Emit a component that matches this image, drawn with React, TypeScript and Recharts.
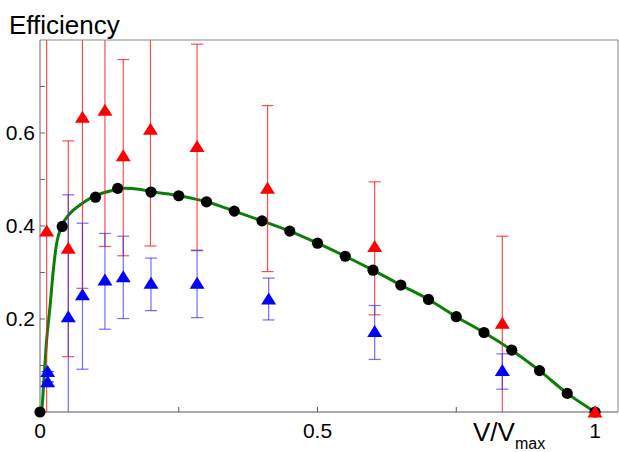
import * as Recharts from 'recharts';
import {ComposedChart, ErrorBar, Line, Scatter, XAxis, YAxis} from 'recharts';

// model points (black circles)
const modelX = [0, 0.04, 0.1, 0.14, 0.2, 0.25, 0.3, 0.35, 0.4, 0.45, 0.5, 0.55, 0.6, 0.65, 0.7, 0.75, 0.8, 0.85, 0.9, 0.95, 1.0];
const modelY = [0, 0.399, 0.462, 0.481, 0.473, 0.465, 0.452, 0.432, 0.411, 0.389, 0.363, 0.335, 0.305, 0.273, 0.242, 0.205, 0.171, 0.133, 0.089, 0.040, 0];

// green fitted curve, read along its path
const fitX = [0, 0.003, 0.007, 0.012, 0.018, 0.024, 0.03, 0.039, 0.054, 0.072, 0.096, 0.132, 0.153, 0.178, 0.2, 0.25, 0.3, 0.35, 0.4, 0.45, 0.5, 0.55, 0.6, 0.65, 0.7, 0.75, 0.8, 0.85, 0.9, 0.95, 1.0];
const fitY = [0, 0.004, 0.069, 0.155, 0.226, 0.305, 0.363, 0.399, 0.427, 0.445, 0.463, 0.477, 0.481, 0.479, 0.474, 0.465, 0.452, 0.432, 0.411, 0.389, 0.363, 0.335, 0.305, 0.273, 0.242, 0.205, 0.171, 0.133, 0.089, 0.040, 0];

// red measurements with error ranges (bars beyond the axes run off the plot)
const redX = [0.012, 0.051, 0.0765, 0.117, 0.15, 0.199, 0.283, 0.41, 0.603, 0.833, 1.0];
const redY = [0.389, 0.352, 0.634, 0.649, 0.551, 0.608, 0.571, 0.481, 0.356, 0.191, 0];
const redLow = [-0.1, 0.119, 0.266, 0.356, 0.336, 0.357, 0.348, 0.302, 0.209, -0.1, 0];
const redHigh = [0.95, 0.583, 0.95, 0.95, 0.758, 0.95, 0.791, 0.659, 0.495, 0.378, 0];

// blue measurements
const blueX = [0.0138, 0.0138, 0.051, 0.0765, 0.117, 0.15, 0.2, 0.283, 0.412, 0.603, 0.833];
const blueY = [0.087, 0.065, 0.205, 0.252, 0.284, 0.291, 0.277, 0.277, 0.243, 0.173, 0.089];
const blueLow = [0.087, 0.065, -0.1, 0.092, 0.178, 0.201, 0.218, 0.203, 0.198, 0.113, 0.049];
const blueHigh = [0.087, 0.065, 0.467, 0.406, 0.384, 0.378, 0.331, 0.347, 0.288, 0.229, 0.125];

const xTicks = [0, 0.25, 0.5, 0.75, 1];
const xLabelled = [0, 0.5, 1];
const yTicks = [0, 0.1, 0.2, 0.3, 0.4, 0.5, 0.6, 0.7];
const yLabelled = [0.2, 0.4, 0.6];

const font = '"Liberation Sans", Arial, sans-serif';

const fit = fitX.map((x, i) => ({x, y: fitY[i]}));
const model = modelX.map((x, i) => ({x, y: modelY[i]}));
const red = redX.map((x, i) => ({x, y: redY[i], err: [redY[i] - redLow[i], redHigh[i] - redY[i]]}));
const blue = blueX.map((x, i) => ({x, y: blueY[i], err: [blueY[i] - blueLow[i], blueHigh[i] - blueY[i]]}));

const triangle = (color: string) => (props: any) => {
    const {cx, cy} = props;
    return <polygon points={`${cx},${cy - 6.5} ${cx - 7.5},${cy + 5.5} ${cx + 7.5},${cy + 5.5}`} fill={color}/>;
};
const dot = (props: any) => <circle cx={props.cx} cy={props.cy} r={5.6} fill="#000"/>;

// error bars that run past the axes get cut at the plot box, markers do not
const PlotClip = () => {
    const hook = (Recharts as any).usePlotArea;
    const area = hook ? hook() : null;
    const {x, y, width, height} = area ?? {x: 40, y: 40, width: 578, height: 372};
    return (
        <defs>
            <clipPath id="plot-clip">
                <rect x={x} y={y} width={width} height={height}/>
            </clipPath>
        </defs>
    );
};

const css = `
.recharts-scatter, .recharts-scatter-symbol, .recharts-line, .recharts-line-curve { clip-path: none; }
g.recharts-errorBars, g.recharts-errorBar { clip-path: url(#plot-clip) !important; }
`;

export default function App() {
    return (
        <div style={{position: 'absolute', left: 0, top: 0, fontFamily: font}}>
            <style>{css}</style>
            <ComposedChart width={619} height={452} margin={{top: 39, right: 0, bottom: 0, left: 0}}>
                <PlotClip/>
                <XAxis dataKey="x" type="number" domain={[0, 1.0414]} ticks={xTicks} interval={0}
                       tickFormatter={v => xLabelled.includes(v) ? String(v) : ''}
                       height={40} stroke="#555" tickSize={-5} tickMargin={16}
                       tick={{fill: '#000', fontSize: 21, fontFamily: font}}/>
                <XAxis xAxisId="top" orientation="top" dataKey="x" type="number" domain={[0, 1.0414]}
                       ticks={[0.25, 0.5, 0.75, 1]} interval={0} height={1} stroke="#888" tickSize={-5} tick={false}/>
                <YAxis yAxisId="left" dataKey="y" type="number" domain={[0, 0.8]} allowDataOverflow
                       ticks={yTicks} interval={0}
                       tickFormatter={v => yLabelled.includes(v) ? String(v) : ''}
                       width={40} stroke="#666" tickSize={-5} tickMargin={10}
                       tick={{fill: '#000', fontSize: 21, fontFamily: font}}/>
                <YAxis yAxisId="right" orientation="right" dataKey="y" type="number" domain={[0, 0.8]}
                       ticks={yTicks.slice(1)} interval={0} width={1} stroke="#888" tickSize={-4} tick={false}/>

                <Line yAxisId="left" data={fit} dataKey="y" type="monotone" stroke="#0a7f0a" strokeWidth={3}
                      dot={false} activeDot={false} isAnimationActive={false}/>
                <Scatter yAxisId="left" data={model} shape={dot} isAnimationActive={false}/>
                <Scatter xAxisId="top" yAxisId="right" data={model} shape={() => <g/>} isAnimationActive={false}/>

                <Scatter yAxisId="left" data={red} shape={triangle('#ff0000')} isAnimationActive={false}>
                    <ErrorBar dataKey="err" direction="y" width={6} stroke="#ff2020" strokeWidth={1.2}
                              strokeOpacity={0.8} isAnimationActive={false}/>
                </Scatter>
                <Scatter yAxisId="left" data={blue} shape={triangle('#0000ff')} isAnimationActive={false}>
                    <ErrorBar dataKey="err" direction="y" width={6} stroke="#3030ff" strokeWidth={1.2}
                              strokeOpacity={0.7} isAnimationActive={false}/>
                </Scatter>

                <text x={9} y={34} fontSize={26} fontFamily={font} fill="#000">Efficiency</text>
                <text x={473} y={441} fontSize={26} fontFamily={font} fill="#000">
                    V/V<tspan dy={8} fontSize={16}>max</tspan>
                </text>
            </ComposedChart>
        </div>
    );
}
